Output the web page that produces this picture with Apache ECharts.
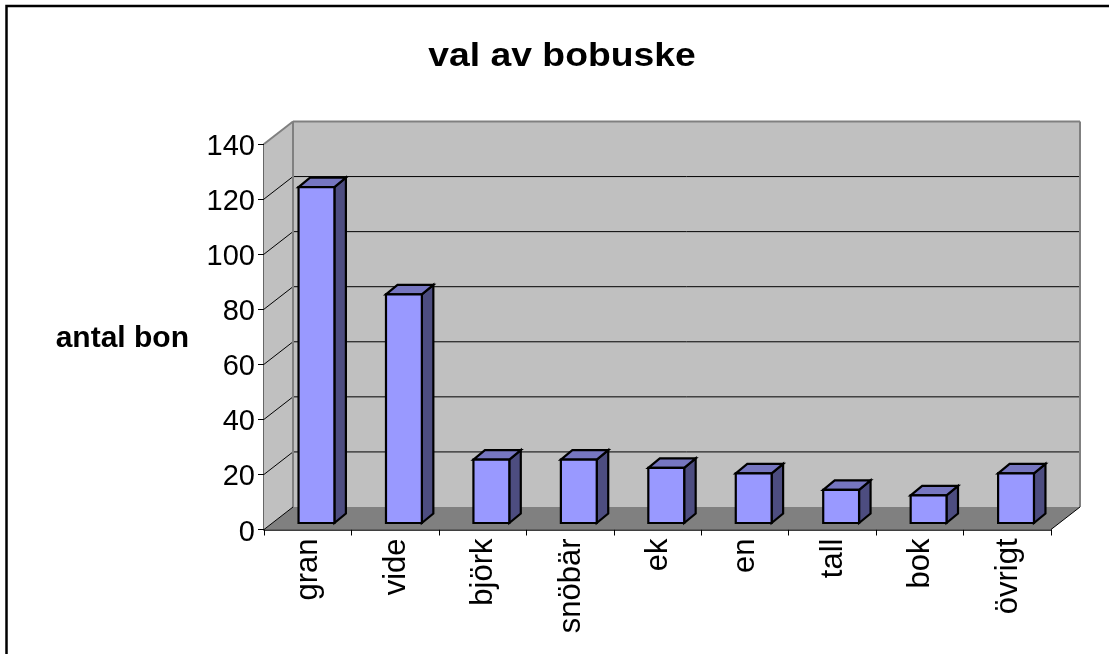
<!DOCTYPE html>
<html>
<head>
<meta charset="utf-8">
<style>
  html, body { margin: 0; padding: 0; background: #fff; }
  #chart { width: 1109px; height: 654px; }
</style>
<script src="https://cdn.jsdelivr.net/npm/echarts@6/dist/echarts.min.js"></script>
</head>
<body>
<div id="chart"></div>
<script>
const categories = ['gran', 'vide', 'björk', 'snöbär', 'ek', 'en', 'tall', 'bok', 'övrigt'];
const nests = [122, 83, 23, 23, 20, 18, 12, 10, 18];
const wallTicks = [0, 20, 40, 60, 80, 100, 120, 140];

const font = '"Liberation Sans", Arial, sans-serif';
// depth of the fake 3d box and of each bar, in pixels
const boxDx = 29, boxDy = 22.5;
const barDx = 11.5, barDy = 9.5;
const barShiftX = 8.75, barShiftY = 6.5;

const myChart = echarts.init(document.getElementById('chart'), null, { renderer: 'canvas' });

function poly(points, fill, stroke, lineWidth) {
    return {
        type: 'polygon',
        shape: { points },
        style: { fill, stroke: stroke || 'none', lineWidth: lineWidth || 0, lineJoin: 'miter' },
    };
}

function line(a, b, stroke, lineWidth) {
    return {
        type: 'line',
        shape: { x1: a[0], y1: a[1], x2: b[0], y2: b[1] },
        style: { stroke, lineWidth },
    };
}

function renderWalls(params, api) {
    const cs = params.coordSys;
    const l = cs.x, r = cs.x + cs.width;
    const t = cs.y, b = cs.y + cs.height;
    const kids = [
        poly([[l, t], [l + boxDx, t - boxDy], [l + boxDx, b - boxDy], [l, b]], '#c0c0c0'),
        poly([[l + boxDx, t - boxDy], [r + boxDx, t - boxDy], [r + boxDx, b - boxDy], [l + boxDx, b - boxDy]], '#c0c0c0'),
        poly([[l, b], [l + boxDx, b - boxDy], [r + boxDx, b - boxDy], [r, b]], '#808080'),
    ];
    wallTicks.forEach(v => {
        const y = api.coord([0, v])[1];
        if (v > 0 && v < 140) {
            kids.push(line([l, y], [l + boxDx, y - boxDy], '#000', 1));
            kids.push(line([l + boxDx, y - boxDy], [r + boxDx, y - boxDy], '#000', 1));
        }
    });
    kids.push(line([l + boxDx, t - boxDy], [r + boxDx, t - boxDy], '#808080', 2));
    kids.push(line([l + boxDx, t - boxDy], [l + boxDx, b - boxDy], '#808080', 2));
    kids.push(line([r + boxDx, t - boxDy], [r + boxDx, b - boxDy], '#808080', 2));
    kids.push(line([l, t], [l + boxDx, t - boxDy], '#808080', 2));
    kids.push(line([l, b], [l + boxDx, b - boxDy], '#000', 1));
    kids.push(line([r, b], [r + boxDx, b - boxDy], '#000', 1));
    return { type: 'group', children: kids };
}

function renderBar(params, api) {
    const top = api.coord([api.value(0), api.value(1)]);
    const base = api.coord([api.value(0), 0]);
    const w = api.size([1, 0])[0] * 0.41;
    const x0 = top[0] + barShiftX - w / 2, x1 = x0 + w;
    const y0 = top[1] - barShiftY, y1 = base[1] - barShiftY;
    const edge = { stroke: '#000', lineWidth: 2.2 };
    return {
        type: 'group',
        children: [
            poly([[x1, y0], [x1 + barDx, y0 - barDy], [x1 + barDx, y1 - barDy], [x1, y1]], '#4d4d80', edge.stroke, edge.lineWidth),
            poly([[x0, y0], [x0 + barDx, y0 - barDy], [x1 + barDx, y0 - barDy], [x1, y0]], '#7676c0', edge.stroke, edge.lineWidth),
            poly([[x0, y0], [x1, y0], [x1, y1], [x0, y1]], '#9999ff', edge.stroke, edge.lineWidth),
        ],
    };
}

const option = {
    animation: false,
    backgroundColor: '#fff',
    grid: { left: 264, top: 144, width: 787, height: 385.5, containLabel: false },
    xAxis: {
        type: 'category',
        data: categories,
        axisLine: { lineStyle: { color: '#000', width: 1.5 } },
        axisTick: { show: true, alignWithLabel: false, length: 6, lineStyle: { color: '#000' } },
        axisLabel: {
            rotate: 90,
            interval: 0,
            margin: 9,
            verticalAlign: 'top',
            padding: [-14.5, 0, 0, 0],
            fontFamily: font,
            fontSize: 31,
            color: '#000',
        },
    },
    yAxis: {
        type: 'value',
        min: 0,
        max: 140,
        interval: 20,
        name: 'antal bon',
        nameLocation: 'middle',
        nameRotate: 0,
        nameGap: 75,
        nameTextStyle: {
            fontFamily: font,
            fontSize: 30,
            fontWeight: 'bold',
            color: '#000',
            verticalAlign: 'top',
            padding: [-13, 0, 0, 0],
        },
        axisLine: { show: true, lineStyle: { color: '#333', width: 1.5 } },
        axisTick: { show: true, length: 6, lineStyle: { color: '#000' } },
        axisLabel: {
            margin: 9,
            fontFamily: font,
            fontSize: 29,
            color: '#000',
            verticalAlign: 'top',
            padding: [-11.5, 0, 0, 0],
        },
        splitLine: { show: false },
    },
    graphic: [
        {
            type: 'polyline',
            shape: { points: [[6.5, 700], [6.5, 6], [1200, 6]] },
            style: { fill: 'none', stroke: '#000', lineWidth: 2.5 },
            silent: true,
        },
        {
            // chart title, stretched sideways as in the picture
            type: 'text',
            x: 562,
            y: 56.5,
            scaleX: 1.13,
            style: {
                text: 'val av bobuske',
                font: 'bold 33px ' + font,
                fill: '#000',
                textAlign: 'center',
                textVerticalAlign: 'middle',
            },
        },
    ],
    series: [
        {
            type: 'custom',
            name: 'walls',
            coordinateSystem: 'cartesian2d',
            renderItem: renderWalls,
            data: [[0, 0]],
            z: 1,
            silent: true,
            clip: false,
        },
        {
            type: 'custom',
            name: 'antal bon',
            coordinateSystem: 'cartesian2d',
            renderItem: renderBar,
            encode: { x: 0, y: 1 },
            data: categories.map((c, i) => [i, nests[i]]),
            z: 2,
            clip: false,
        },
    ],
};
myChart.setOption(option);
</script>
</body>
</html>
